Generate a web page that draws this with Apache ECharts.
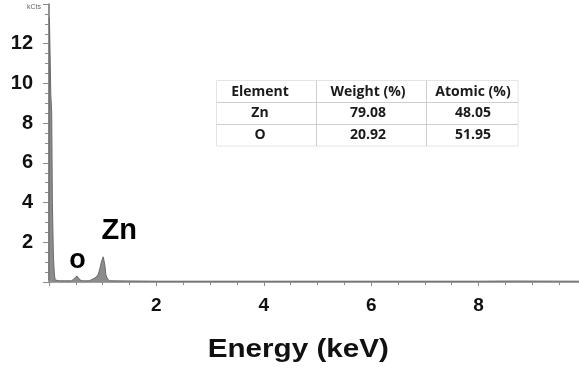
<!DOCTYPE html>
<html>
<head>
<meta charset="utf-8">
<title>EDS spectrum – ZnO</title>
<script src="https://cdn.jsdelivr.net/npm/echarts@6/dist/echarts.min.js"></script>
<style>
  html, body { margin: 0; padding: 0; background: #fff; }
  #chart { width: 579px; height: 370px; }
</style>
</head>
<body>
<div id="chart"></div>
<script>
// EDS spectrum: energy (keV) vs counts (kCts)
const energyKeV = [
  0, 0.008, 0.03, 0.034, 0.045, 0.05, 0.058, 0.063, 0.078, 0.082, 0.092, 0.1, 0.115,
  0.2, 0.3, 0.42, 0.46, 0.49, 0.52, 0.55, 0.58, 0.62,
  0.75, 0.82, 0.88, 0.92, 0.95, 0.98, 1.01, 1.04, 1.06, 1.09, 1.13,
  2, 4, 6, 8, 8.63, 9.87
];
const countsKCts = [
  0.1, 13.3, 13.3, 9.4, 9.4, 8.6, 8.6, 4.0, 4.0, 1.3, 1.3, 0.4, 0.1,
  0.06, 0.06, 0.06, 0.15, 0.25, 0.3, 0.2, 0.1, 0.06,
  0.06, 0.15, 0.25, 0.4, 0.7, 1.05, 1.27, 0.85, 0.35, 0.15, 0.06,
  0.04, 0.04, 0.04, 0.04, 0.05, 0.04
];

// peak labels: element symbol and the peak it sits on
const peakNames = ['o', 'Zn'];
const peakEnergy = [0.52, 1.01];
const peakCounts = [0.3, 1.27];

// composition table
const tableHeader = ['Element', 'Weight (%)', 'Atomic (%)'];
const tableElements = ['Zn', 'O'];
const weightPct = ['79.08', '20.92'];
const atomicPct = ['48.05', '51.95'];

const xTicks = { min: 0, max: 9.87, interval: 2 };
const yTicks = { min: 0, max: 14, interval: 2 };

const chart = echarts.init(document.getElementById('chart'), null, { renderer: 'canvas' });

const spectrum = energyKeV.map((e, i) => [e, countsKCts[i]]);

// table graphic
const tX = [216.5, 316.5, 426.5, 518];
const tY = [80.5, 102.5, 124.5, 146];
const colCenter = [260, 368, 473];
const rowCenter = [92, 113.5, 135];
const tableRows = [tableHeader].concat(tableElements.map((el, i) => [el, weightPct[i], atomicPct[i]]));
const tableGraphics = [{
  type: 'rect',
  shape: { x: tX[0], y: tY[0], width: tX[3] - tX[0], height: tY[3] - tY[0] },
  style: { fill: '#fff', stroke: '#e4e4e4', lineWidth: 1 },
  z: 10
}];
[tY[1], tY[2]].forEach(y => tableGraphics.push({
  type: 'line', shape: { x1: tX[0], y1: y, x2: tX[3], y2: y },
  style: { stroke: '#cfcfcf', lineWidth: 1 }, z: 11
}));
[tX[1], tX[2]].forEach(x => tableGraphics.push({
  type: 'line', shape: { x1: x, y1: tY[0], x2: x, y2: tY[3] },
  style: { stroke: '#cfcfcf', lineWidth: 1 }, z: 11
}));
tableRows.forEach((row, r) => row.forEach((cell, c) => tableGraphics.push({
  type: 'text', z: 12,
  style: {
    x: colCenter[c], y: rowCenter[r], text: cell, align: 'center', verticalAlign: 'middle',
    font: 'bold 14px "Open Sans", sans-serif', fill: '#1a1a1a'
  }
})));

const option = {
  backgroundColor: '#fff',
  animation: false,
  grid: { left: 49, right: 0, top: 4, bottom: 88, outerBoundsMode: 'none' },
  xAxis: [{
    type: 'value',
    min: xTicks.min, max: xTicks.max, interval: xTicks.interval,
    axisLine: { show: true, onZero: false, lineStyle: { color: '#9a9a9a', width: 1.5 } },
    axisTick: { show: true, inside: false, length: 4, lineStyle: { color: '#8a8a8a' } },
    minorTick: { show: true, splitNumber: 4, length: 3, lineStyle: { color: '#8a8a8a' } },
    splitLine: { show: false },
    axisLabel: {
      showMinLabel: false, showMaxLabel: false, margin: 14,
      fontFamily: '"Liberation Sans", Arial, sans-serif', fontWeight: 'bold', fontSize: 19, color: '#111'
    }
  }, {
    type: 'value', position: 'top',
    min: xTicks.min, max: xTicks.max,
    axisLine: { show: true, lineStyle: { color: '#a0a0a0', width: 2 } },
    axisTick: { show: false }, axisLabel: { show: false }, splitLine: { show: false }
  }],
  yAxis: {
    type: 'value',
    min: yTicks.min, max: yTicks.max, interval: yTicks.interval,
    name: 'kCts', nameLocation: 'end', nameGap: -3,
    nameTextStyle: {
      align: 'right', verticalAlign: 'middle', padding: [0, 8, 0, 0],
      fontSize: 7, color: '#666', fontFamily: '"Liberation Sans", Arial, sans-serif'
    },
    axisLine: { show: true, lineStyle: { color: '#6e6e6e', width: 1.5 } },
    axisTick: { show: true, inside: false, length: 6, lineStyle: { color: '#8a8a8a' } },
    minorTick: { show: true, splitNumber: 4, length: 4, lineStyle: { color: '#8a8a8a' } },
    splitLine: { show: false },
    axisLabel: {
      showMinLabel: false, showMaxLabel: false, margin: 16,
      fontFamily: '"Liberation Sans", Arial, sans-serif', fontWeight: 'bold', fontSize: 20, color: '#111'
    }
  },
  series: [{
    type: 'line',
    data: spectrum,
    showSymbol: false,
    lineStyle: { color: '#6a6a6a', width: 1 },
    areaStyle: { color: '#8c8c8c', opacity: 1 },
    markPoint: {
      symbolSize: 0,
      data: peakNames.map((n, i) => ({
        coord: [peakEnergy[i], peakCounts[i]],
        label: {
          show: true, formatter: n, position: 'inside',
          offset: i === 0 ? [0.6, -15] : [16, -26],
          fontFamily: '"Liberation Sans", Arial, sans-serif', fontWeight: 'bold',
          fontSize: i === 0 ? 27 : 29, color: '#000'
        }
      }))
    }
  }],
  graphic: tableGraphics.concat([{
    type: 'text',
    x: 298.3, y: 350, scaleX: 1.14,
    style: {
      x: 0, y: 0, text: 'Energy (keV)', align: 'center', verticalAlign: 'middle',
      font: 'bold 26px "Liberation Sans", Arial, sans-serif', fill: '#111'
    }
  }])
};

chart.setOption(option);
</script>
</body>
</html>
